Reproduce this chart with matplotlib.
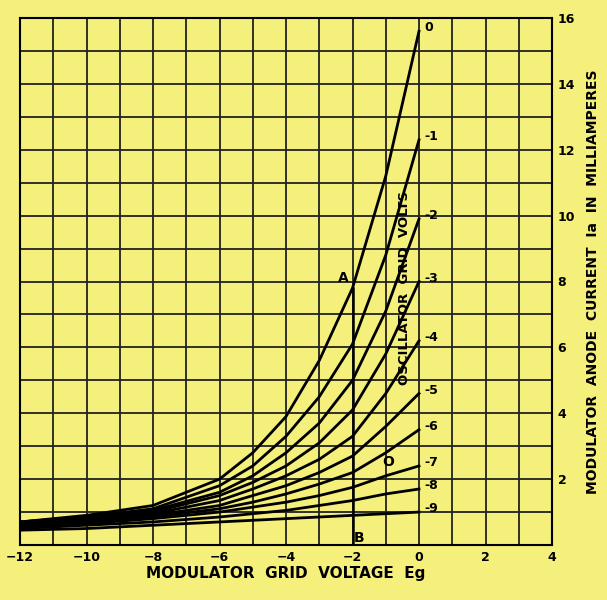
import matplotlib
matplotlib.use("Agg")
import matplotlib.pyplot as plt

x = [-12,-10,-8,-6,-5,-4,-3,-2,-1,0]
curves = {
 "0":  [0.7,0.9,1.2,2.0,2.8,3.9,5.6,7.8,11.2,15.6],
 "-1": [0.7,0.85,1.1,1.8,2.4,3.3,4.5,6.1,8.8,12.3],
 "-2": [0.7,0.85,1.05,1.6,2.1,2.8,3.7,5.0,7.1,9.9],
 "-3": [0.65,0.8,1.0,1.5,1.9,2.4,3.1,4.1,5.8,8.0],
 "-4": [0.65,0.8,0.95,1.35,1.7,2.1,2.6,3.3,4.6,6.2],
 "-5": [0.6,0.75,0.9,1.2,1.5,1.8,2.2,2.7,3.6,4.6],
 "-6": [0.6,0.7,0.85,1.1,1.3,1.55,1.85,2.2,2.8,3.5],
 "-7": [0.55,0.65,0.8,1.0,1.15,1.3,1.5,1.75,2.1,2.4],
 "-8": [0.5,0.6,0.7,0.85,0.95,1.05,1.2,1.35,1.55,1.7],
 "-9": [0.45,0.5,0.6,0.7,0.75,0.8,0.85,0.9,0.95,1.0],
}
xticks = [-12,-10,-8,-6,-4,-2,0,2,4]
yticks = [2,4,6,8,10,12,14,16]

bg = "#f5ef7c"
fig = plt.figure(figsize=(6.07,6.0), dpi=100, facecolor=bg)
ax = fig.add_axes([20/607, 55/600, 532/607, 527/600], facecolor=bg)
ax.set_xlim(-12,4); ax.set_ylim(0,16)
for v in range(-12,5):
    ax.axvline(v, color="#222", lw=1.3, zorder=1)
for v in range(0,17):
    ax.axhline(v, color="#222", lw=1.3, zorder=1)
for k, ys in curves.items():
    ax.plot(x, ys, color="black", lw=2, zorder=3)
    ax.text(0.15, ys[-1]+0.1, k, fontsize=9, fontweight="bold", va="center", ha="left")
ax.plot([-2,-2],[0,7.8], color="black", lw=1.8, zorder=3)
ax.text(-2.45, 8.0, "A", fontsize=10, fontweight="bold")
ax.text(-1.95, 0.1, "B", fontsize=10, fontweight="bold")
ax.text(-1.1, 2.4, "O", fontsize=10, fontweight="bold")
ax.text(-0.45, 7.8, "OSCILLATOR  GRID  VOLTS", rotation=90, fontsize=9.5,
        fontweight="bold", ha="center", va="center", zorder=4)
ax.set_xticks(xticks); ax.set_yticks(yticks)
ax.yaxis.tick_right()
ax.tick_params(length=0, labelsize=9, pad=4)
for l in ax.get_xticklabels()+ax.get_yticklabels():
    l.set_fontweight("bold")
for s in ax.spines.values():
    s.set_linewidth(1.5)
ax.set_xlabel("MODULATOR  GRID  VOLTAGE  Eg", fontsize=11, fontweight="bold", labelpad=2)
ax.yaxis.set_label_position("right")
ax.set_ylabel("MODULATOR  ANODE  CURRENT  Ia  IN  MILLIAMPERES", fontsize=10,
              fontweight="bold", rotation=90, labelpad=8)
fig.savefig("out.png", dpi=100, facecolor=bg)
